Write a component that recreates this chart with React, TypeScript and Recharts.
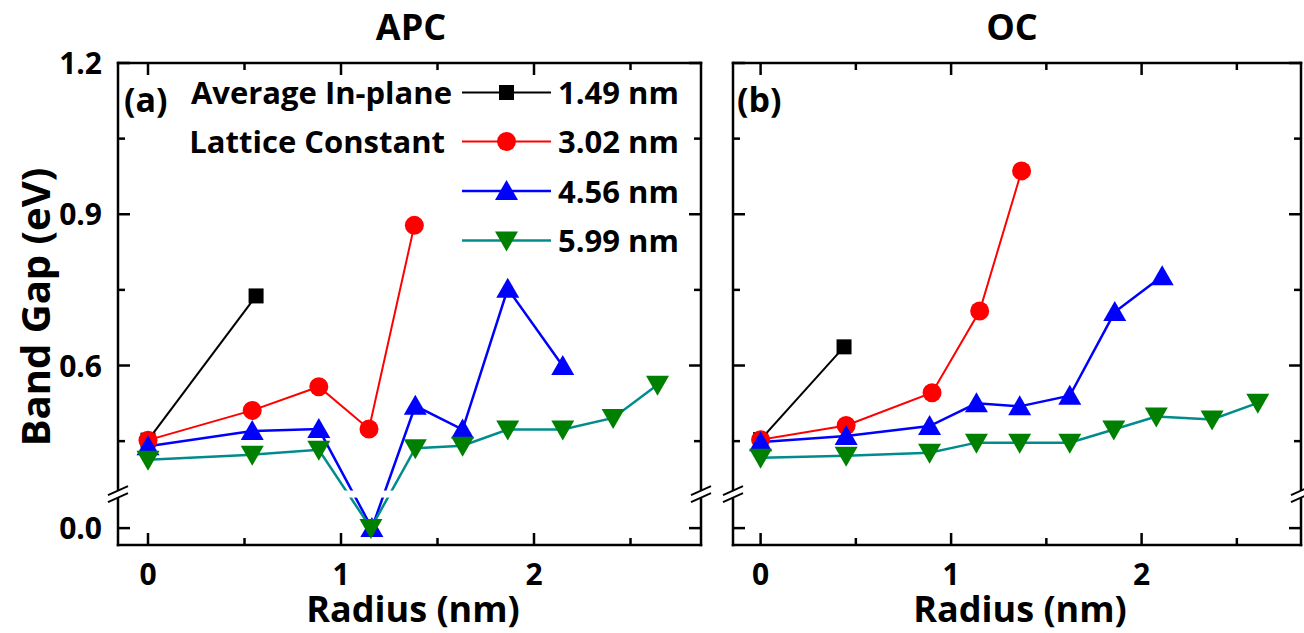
import React from 'react';
import { LineChart, Line, XAxis, YAxis } from 'recharts';

// ---------- broken-axis helpers (lower segment shifted up) ----------
const SHIFT = 0.2775;
const LOW_LIMIT = 0.2;
const toDisplay = (v: number) => (v < LOW_LIMIT ? v + SHIFT : v);
const fromDisplay = (d: number) => (d < 0.34 ? d - SHIFT : d);

// ---------- data ----------
const seriesNames = ['1.49 nm', '3.02 nm', '4.56 nm', '5.99 nm'];

// APC panel
const apcBlackX = [0, 0.56];
const apcBlackY = [0.452, 0.738];
const apcRedX = [0, 0.54, 0.885, 1.145, 1.38];
const apcRedY = [0.452, 0.511, 0.558, 0.474, 0.878];
const apcBlueX = [0, 0.54, 0.885, 1.16, 1.385, 1.63, 1.864, 2.149];
const apcBlueY = [0.44, 0.47, 0.474, 0.0, 0.52, 0.473, 0.752, 0.599];
const apcGreenX = [0, 0.54, 0.885, 1.155, 1.385, 1.63, 1.864, 2.149, 2.41, 2.64];
const apcGreenY = [0.413, 0.423, 0.433, 0.0, 0.436, 0.441, 0.473, 0.473, 0.496, 0.562];

// OC panel
const ocBlackX = [0, 0.438];
const ocBlackY = [0.453, 0.637];
const ocRedX = [0, 0.449, 0.9, 1.15, 1.37];
const ocRedY = [0.453, 0.481, 0.546, 0.708, 0.986];
const ocBlueX = [0, 0.449, 0.887, 1.133, 1.36, 1.623, 1.859, 2.108];
const ocBlueY = [0.448, 0.46, 0.48, 0.525, 0.519, 0.54, 0.706, 0.777];
const ocGreenX = [0, 0.449, 0.887, 1.133, 1.36, 1.623, 1.854, 2.077, 2.37, 2.61];
const ocGreenY = [0.417, 0.421, 0.427, 0.447, 0.447, 0.447, 0.473, 0.499, 0.493, 0.526];

// ticks
const X_TICKS = [0, 0.5, 1, 1.5, 2, 2.5];
const Y_MAJOR = [0.0, 0.6, 0.9, 1.2];
const Y_MINOR = [0.45, 0.75, 1.05];

// ---------- styling ----------
const FONT = "'Open Sans', 'Noto Sans', sans-serif";
const COLORS = {
  black: { line: '#000000', fill: '#000000', shape: 'square', width: 2 },
  red: { line: '#ff0000', fill: '#ff0000', shape: 'circle', width: 2 },
  blue: { line: '#0000ff', fill: '#0000ff', shape: 'up', width: 2.5 },
  green: { line: '#008c8c', fill: '#008000', shape: 'down', width: 2.5 },
};
const STYLE_ORDER = ['black', 'red', 'blue', 'green'] as const;

const PLOT_TOP = 63;
const PLOT_BOTTOM = 545;
const Y_MIN = 0.244;
const Y_MAX = 1.2;
const BREAK_D = 0.345;

const makeData = (xs: number[], ys: number[]) => xs.map((x, i) => ({ x, y: toDisplay(ys[i]) }));

function Marker({ cx, cy, shape, color }: any) {
  if (cx == null || cy == null) return null;
  switch (shape) {
    case 'square':
      return <rect x={cx - 7.5} y={cy - 7.5} width={15} height={15} fill={color} />;
    case 'circle':
      return <circle cx={cx} cy={cy} r={9.5} fill={color} />;
    case 'up':
      return <polygon points={`${cx},${cy - 11} ${cx + 11.5},${cy + 9} ${cx - 11.5},${cy + 9}`} fill={color} />;
    default:
      return <polygon points={`${cx},${cy + 11} ${cx + 11.5},${cy - 9} ${cx - 11.5},${cy - 9}`} fill={color} />;
  }
}

const isMajorX = (v: number) => Math.abs(v - Math.round(v)) < 1e-6;
const isMajorY = (d: number) => Y_MAJOR.some((m) => Math.abs(toDisplay(m) - d) < 1e-6);

const TICK_W = 2.5;

function BottomTick(p: any) {
  const v = p.payload.value;
  const major = isMajorX(v);
  return (
    <g>
      <line x1={p.x} x2={p.x} y1={p.y} y2={p.y - (major ? 12 : 7)} stroke="#000" strokeWidth={TICK_W} />
      {major && (
        <text x={p.x} y={p.y + 40} textAnchor="middle" fontFamily={FONT} fontWeight={700} fontSize={30} fill="#000">
          {String(v)}
        </text>
      )}
    </g>
  );
}
function TopTick(p: any) {
  const v = p.payload.value;
  const major = isMajorX(v);
  return <line x1={p.x} x2={p.x} y1={p.y} y2={p.y + (major ? 12 : 7)} stroke="#000" strokeWidth={TICK_W} />;
}
function LeftTick(p: any) {
  const d = p.payload.value;
  const major = isMajorY(d);
  return (
    <g>
      <line x1={p.x} x2={p.x + (major ? 12 : 7)} y1={p.y} y2={p.y} stroke="#000" strokeWidth={TICK_W} />
      {major && p.showLabel && (
        <text x={p.x - 16} y={p.y + 11} textAnchor="end" fontFamily={FONT} fontWeight={700} fontSize={30} fill="#000">
          {fromDisplay(d).toFixed(1)}
        </text>
      )}
    </g>
  );
}
function RightTick(p: any) {
  const d = p.payload.value;
  const major = isMajorY(d);
  return <line x1={p.x} x2={p.x - (major ? 12 : 7)} y1={p.y} y2={p.y} stroke="#000" strokeWidth={TICK_W} />;
}

const Y_TICKS_D = [...Y_MAJOR, ...Y_MINOR].map(toDisplay).sort((a, b) => a - b);
const AXIS_LINE = { stroke: '#000', strokeWidth: 2.5, strokeLinecap: 'square' as const };

function Panel({ chartLeft, chartWidth, yAxisWidth, rightAxisWidth, marginRight, xDomain, series, showYLabels }: any) {
  return (
    <div style={{ position: 'absolute', left: chartLeft, top: 0 }}>
      <LineChart width={chartWidth} height={633} margin={{ top: 53, right: marginRight, bottom: 0, left: 0 }}>
        <XAxis
          xAxisId="x"
          dataKey="x"
          type="number"
          domain={xDomain}
          allowDataOverflow
          ticks={X_TICKS}
          interval={0}
          tickSize={0}
          tickMargin={0}
          height={88}
          tickLine={false}
          axisLine={AXIS_LINE}
          tick={(p: any) => <BottomTick {...p} />}
        />
        <XAxis
          xAxisId="top"
          orientation="top"
          dataKey="x"
          type="number"
          domain={xDomain}
          allowDataOverflow
          ticks={X_TICKS}
          interval={0}
          tickSize={0}
          tickMargin={0}
          height={10}
          tickLine={false}
          axisLine={AXIS_LINE}
          tick={(p: any) => <TopTick {...p} />}
        />
        <YAxis
          yAxisId="y"
          type="number"
          domain={[Y_MIN, Y_MAX]}
          allowDataOverflow
          ticks={Y_TICKS_D}
          interval={0}
          tickSize={0}
          tickMargin={0}
          width={yAxisWidth}
          tickLine={false}
          axisLine={AXIS_LINE}
          tick={(p: any) => <LeftTick {...p} showLabel={showYLabels} />}
        />
        <YAxis
          yAxisId="r"
          orientation="right"
          type="number"
          domain={[Y_MIN, Y_MAX]}
          allowDataOverflow
          ticks={Y_TICKS_D}
          interval={0}
          tickSize={0}
          tickMargin={0}
          width={rightAxisWidth}
          tickLine={false}
          axisLine={AXIS_LINE}
          tick={(p: any) => <RightTick {...p} />}
        />
        {series.map((s: any, i: number) => {
          const st = (COLORS as any)[STYLE_ORDER[i]];
          return (
            <Line
              key={s.name}
              name={s.name}
              xAxisId="x"
              yAxisId="y"
              data={s.data}
              dataKey="y"
              type="linear"
              stroke={st.line}
              strokeWidth={st.width}
              isAnimationActive={false}
              activeDot={false}
              dot={(p: any) => <Marker key={`m-${i}-${p.index}`} cx={p.cx} cy={p.cy} shape={st.shape} color={st.fill} />}
            />
          );
        })}
      </LineChart>
    </div>
  );
}

const apcSeries = [
  { name: seriesNames[0], data: makeData(apcBlackX, apcBlackY) },
  { name: seriesNames[1], data: makeData(apcRedX, apcRedY) },
  { name: seriesNames[2], data: makeData(apcBlueX, apcBlueY) },
  { name: seriesNames[3], data: makeData(apcGreenX, apcGreenY) },
];
const ocSeries = [
  { name: seriesNames[0], data: makeData(ocBlackX, ocBlackY) },
  { name: seriesNames[1], data: makeData(ocRedX, ocRedY) },
  { name: seriesNames[2], data: makeData(ocBlueX, ocBlueY) },
  { name: seriesNames[3], data: makeData(ocGreenX, ocGreenY) },
];

const breakY = PLOT_TOP + ((Y_MAX - BREAK_D) / (Y_MAX - Y_MIN)) * (PLOT_BOTTOM - PLOT_TOP);

function BreakMarks({ xs, bandFrom, bandTo }: any) {
  const gap = 3.5;
  return (
    <g>
      <rect x={bandFrom} y={breakY - gap} width={bandTo - bandFrom} height={gap * 2} fill="#fff" />
      {xs.map((ax: number) => (
        <g key={ax}>
          <line x1={ax - 10} y1={breakY - gap + 4.5} x2={ax + 10} y2={breakY - gap - 4.5} stroke="#000" strokeWidth={2} />
          <line x1={ax - 10} y1={breakY + gap + 4.5} x2={ax + 10} y2={breakY + gap - 4.5} stroke="#000" strokeWidth={2} />
        </g>
      ))}
    </g>
  );
}

function Overlay() {
  const rows = [92.5, 141.5, 191, 240.5];
  const txt = { fontFamily: FONT, fontWeight: 700, fill: '#000' } as any;
  return (
    <svg width={1304} height={633} style={{ position: 'absolute', left: 0, top: 0, pointerEvents: 'none' }}>
      <BreakMarks xs={[118, 701]} bandFrom={106} bandTo={713} />
      <BreakMarks xs={[733, 1301]} bandFrom={721} bandTo={1304} />
      <text x={411} y={40} textAnchor="middle" fontSize={36} {...txt}>APC</text>
      <text x={1012} y={40} textAnchor="middle" fontSize={36} {...txt}>OC</text>
      <text x={124} y={112} fontSize={34} {...txt}>(a)</text>
      <text x={737} y={112} fontSize={34} {...txt}>(b)</text>
      <text transform="translate(50,307) rotate(-90)" textAnchor="middle" fontSize={40} {...txt}>Band Gap (eV)</text>
      <text x={413} y={622} textAnchor="middle" fontSize={36} {...txt}>Radius (nm)</text>
      <text x={1020} y={622} textAnchor="middle" fontSize={36} {...txt}>Radius (nm)</text>
      <text x={452} y={104} textAnchor="end" fontSize={31} {...txt}>Average In-plane</text>
      <text x={445} y={153} textAnchor="end" fontSize={31} {...txt}>Lattice Constant</text>
      {rows.map((ry, i) => {
        const st = (COLORS as any)[STYLE_ORDER[i]];
        return (
          <g key={i}>
            <line x1={462} x2={551} y1={ry} y2={ry} stroke={st.line} strokeWidth={st.width} />
            <Marker cx={506.5} cy={ry} shape={st.shape} color={st.fill} />
            <text x={558} y={ry + 11.5} fontSize={31} {...txt}>{seriesNames[i]}</text>
          </g>
        );
      })}
    </svg>
  );
}

export default function App() {
  return (
    <div style={{ position: 'absolute', left: 0, top: 0, width: 1304, height: 633, background: '#fff', overflow: 'hidden' }}>
      <Panel
        chartLeft={0}
        chartWidth={720}
        yAxisWidth={118}
        rightAxisWidth={10}
        marginRight={9}
        xDomain={[(118 - 148) / 193, (701 - 148) / 193]}
        series={apcSeries}
        showYLabels
      />
      <Panel
        chartLeft={720}
        chartWidth={584}
        yAxisWidth={13}
        rightAxisWidth={3}
        marginRight={0}
        xDomain={[(733 - 760.6) / 190.5, (1301 - 760.6) / 190.5]}
        series={ocSeries}
        showYLabels={false}
      />
      <Overlay />
    </div>
  );
}
